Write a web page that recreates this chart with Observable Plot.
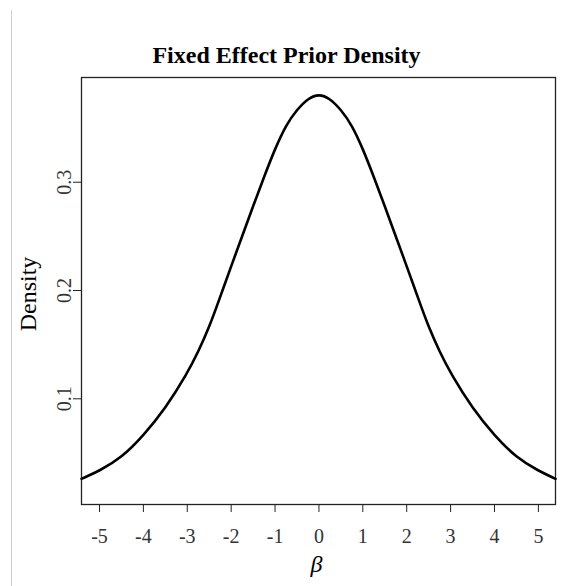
<!DOCTYPE html>
<html><head><meta charset="utf-8">
<script src="https://cdn.jsdelivr.net/npm/d3@7"></script>
<script src="https://cdn.jsdelivr.net/npm/@observablehq/plot@0.6"></script>
<style>
body{margin:0;background:#fff;}
#wrap{position:relative;width:579px;height:586px;}
#rule{position:absolute;left:11px;top:10px;width:1px;height:576px;background:#cfcfcf;}
#chart{position:absolute;left:0;top:0;}
</style></head><body>
<div id="wrap"><div id="rule"></div><div id="chart"></div></div>
<script>
const beta = [-5.41, -5, -4.5, -4, -3.5, -3, -2.75, -2.5, -2.25, -2, -1.75, -1.5, -1.25, -1, -0.75, -0.5, -0.25, 0, 0.25, 0.5, 0.75, 1, 1.25, 1.5, 1.75, 2, 2.25, 2.5, 2.75, 3, 3.5, 4, 4.5, 5, 5.39];
const density = [0.0261, 0.0335, 0.0455, 0.066, 0.091, 0.1235, 0.1435, 0.166, 0.194, 0.2225, 0.250, 0.278, 0.305, 0.331, 0.353, 0.367, 0.3775, 0.3816, 0.3775, 0.367, 0.353, 0.331, 0.305, 0.278, 0.250, 0.2225, 0.194, 0.166, 0.1435, 0.1235, 0.091, 0.066, 0.0455, 0.0335, 0.0261];
const xTicks = [-5, -4, -3, -2, -1, 0, 1, 2, 3, 4, 5];
const yTicks = [0.1, 0.2, 0.3];
const titleText = "Fixed Effect Prior Density";
const xLabel = "β";
const yLabel = "Density";

const data = beta.map((b, i) => ({beta: b, density: density[i]}));
const serif = "'Liberation Serif', 'Times New Roman', Times, serif";

const chart = Plot.plot({
  width: 579, height: 586,
  marginLeft: 81, marginRight: 24, marginTop: 77, marginBottom: 82,
  style: {fontFamily: serif, background: "transparent", color: "#222"},
  x: {domain: [-5.41, 5.39]},
  y: {domain: [0.0024, 0.3967]},
  marks: [
    Plot.frame({stroke: "#222", strokeWidth: 1.3}),
    Plot.axisX({ticks: xTicks, tickSize: 8, tickPadding: 16, fontSize: 20, label: null, tickFormat: d => String(d), stroke: "#222", fill: "#333"}),
    Plot.axisY({ticks: yTicks, tickSize: 8, text: null, label: null, stroke: "#222"}),
    Plot.text(yTicks, {y: d => d, text: d => String(d), frameAnchor: "left", dx: -11, rotate: -90, textAnchor: "middle", lineAnchor: "bottom", fontSize: 20, fill: "#333"}),
    Plot.line(data, {x: "beta", y: "density", curve: "basis", stroke: "black", strokeWidth: 2.6}),
    Plot.text([titleText], {frameAnchor: "top", dx: -32, dy: -15, textAnchor: "middle", lineAnchor: "bottom", fontSize: 24, fontWeight: "bold", fill: "black"}),
    Plot.text([yLabel], {frameAnchor: "left", dx: -46, dy: 3, rotate: -90, textAnchor: "middle", lineAnchor: "bottom", fontSize: 24, fill: "black"}),
    Plot.text([xLabel], {frameAnchor: "bottom", dx: -2, dy: 67, textAnchor: "middle", lineAnchor: "bottom", fontSize: 24, fontStyle: "italic", fill: "black"})
  ]
});
document.getElementById("chart").appendChild(chart);
</script>
</body></html>
